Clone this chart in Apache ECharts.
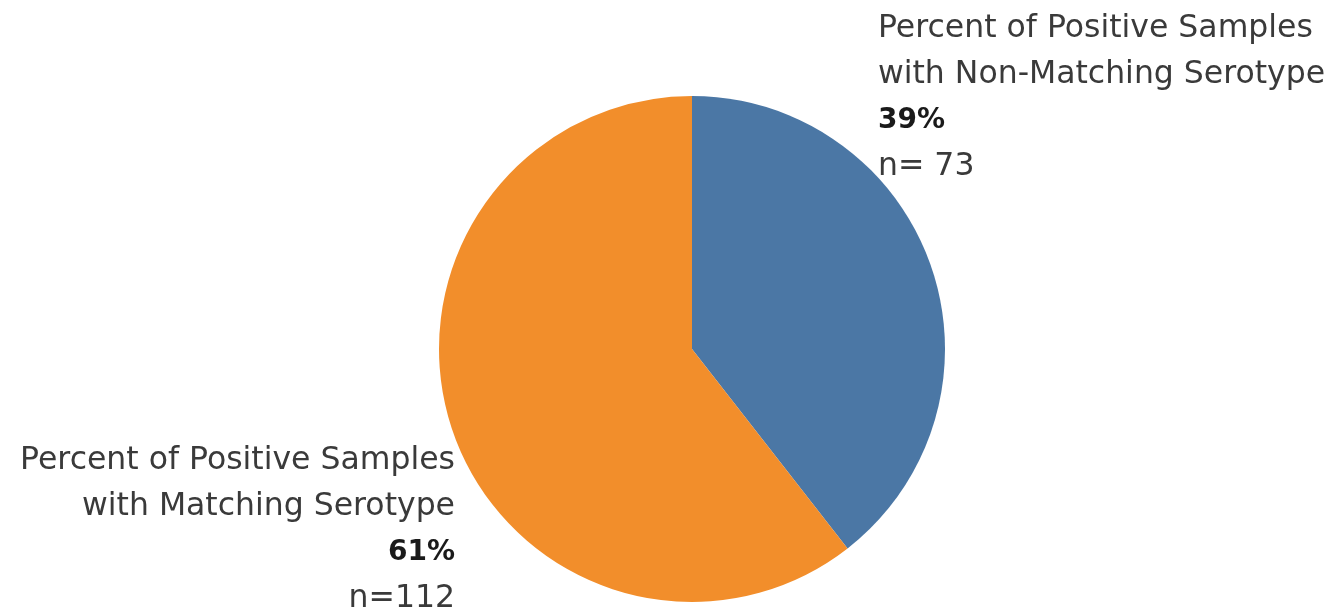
<!DOCTYPE html>
<html>
<head>
<meta charset="utf-8">
<script src="https://cdn.jsdelivr.net/npm/echarts@6/dist/echarts.min.js"></script>
<style>
  html, body { margin: 0; padding: 0; background: #fff; }
  #chart { width: 1338px; height: 612px; }
</style>
</head>
<body>
<div id="chart"></div>
<script>
const categories = [
  'Percent of Positive Samples\nwith Non-Matching Serotype',
  'Percent of Positive Samples\nwith Matching Serotype'
];
const counts = [73, 112];
const countLabels = ['n= 73', 'n=112'];
const colors = ['#4b77a5', '#f28e2b'];

const chart = echarts.init(document.getElementById('chart'), null, { renderer: 'canvas' });

const FONT = '"DejaVu Sans", sans-serif';

chart.setOption({
  animation: false,
  backgroundColor: '#ffffff',
  series: [{
    type: 'pie',
    center: [692, 349],
    radius: 253,
    startAngle: 90,
    clockwise: true,
    silent: true,
    data: categories.map((c, i) => ({
      name: c,
      value: counts[i],
      itemStyle: { color: colors[i] }
    })),
    labelLine: { show: false },
    label: {
      show: true,
      position: 'outside',
      overflow: 'none',
      width: 700,
      formatter: function (p) {
        const lines = p.name.split('\n').map(l => '{a|' + l + '}');
        lines.push('{b|' + Math.round(p.percent) + '%}');
        lines.push('{a|' + countLabels[p.dataIndex] + '}');
        return lines.join('\n');
      },
      rich: {
        a: { fontFamily: FONT, fontSize: 31.5, color: '#3a3a3a', lineHeight: 46 },
        b: { fontFamily: FONT, fontSize: 28, fontWeight: 'bold', color: '#1a1a1a', lineHeight: 46 }
      }
    },
    labelLayout: function (params) {
      if (params.dataIndex === 0) {
        return { x: 878, y: 98, align: 'left', verticalAlign: 'middle' };
      }
      return { x: 455, y: 530, align: 'right', verticalAlign: 'middle' };
    }
  }]
});
</script>
</body>
</html>
